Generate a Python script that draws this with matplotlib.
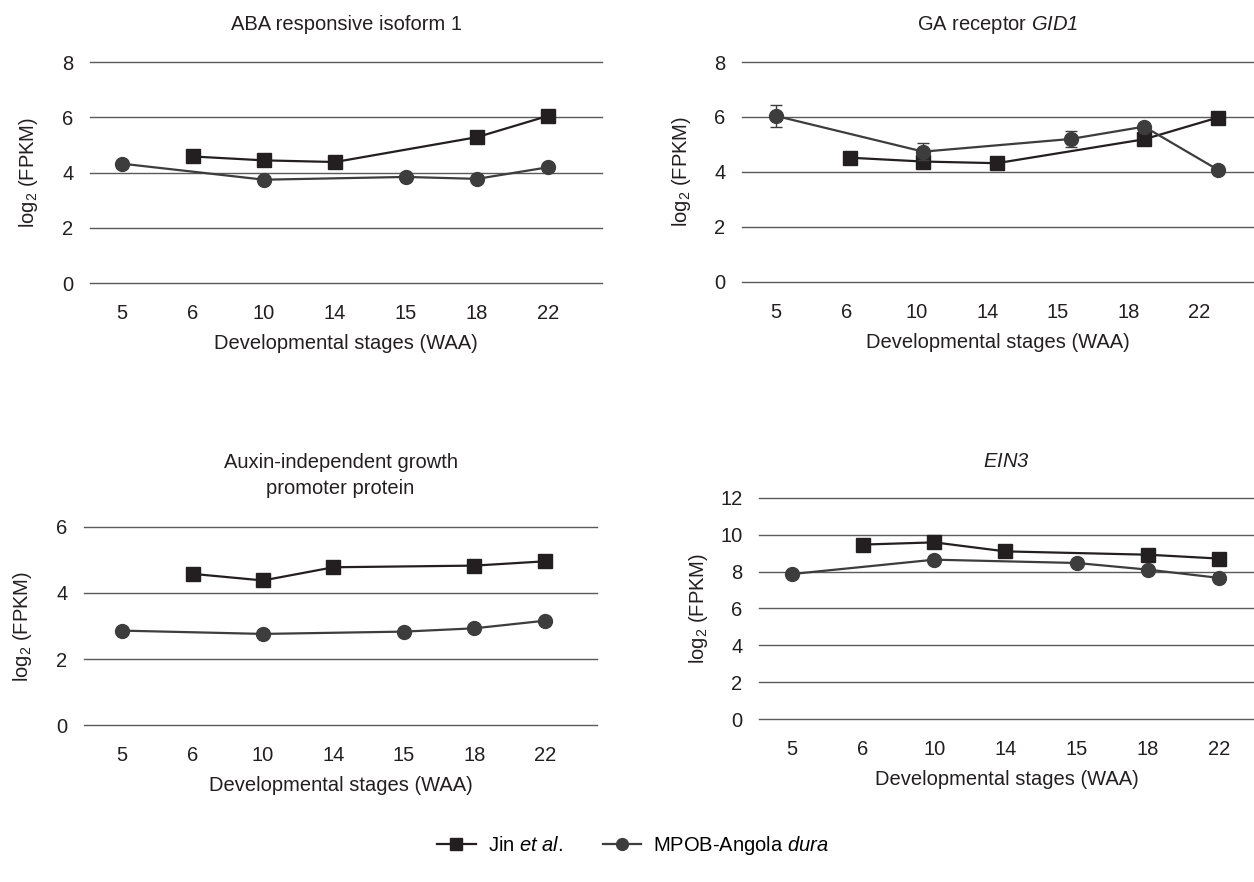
import matplotlib.pyplot as plt
import numpy as np

plt.rcParams['font.family'] = ['Liberation Sans', 'DejaVu Sans']
plt.rcParams['mathtext.fontset'] = 'custom'
plt.rcParams['mathtext.rm'] = 'Liberation Sans'
plt.rcParams['mathtext.it'] = 'Liberation Sans:italic'
plt.rcParams['mathtext.sf'] = 'Liberation Sans:italic'  # italic incl. digits

# stages (WAA), shown as categories
stages = ['5', '6', '10', '14', '15', '18', '22']
jin_idx = [1, 2, 3, 5, 6]      # 6, 10, 14, 18, 22
mpob_idx = [0, 2, 4, 5, 6]     # 5, 10, 15, 18, 22

titles = ['ABA responsive isoform 1',
          r'GA receptor $\mathsf{GID1}$',
          'Auxin-independent growth\npromoter protein',
          r'$\mathsf{EIN3}$']

jin_aba = [4.58, 4.44, 4.38, 5.28, 6.05]
mpob_aba = [4.32, 3.74, 3.84, 3.77, 4.19]

jin_gid1 = [4.52, 4.38, 4.32, 5.19, 5.98]
mpob_gid1 = [6.04, 4.74, 5.20, 5.65, 4.08]
mpob_gid1_err = [0.4, 0.3, 0.3, 0.1, 0.1]

jin_aux = [4.58, 4.38, 4.78, 4.83, 4.96]
mpob_aux = [2.86, 2.76, 2.83, 2.93, 3.16]

jin_ein3 = [9.47, 9.59, 9.10, 8.92, 8.71]
mpob_ein3 = [7.87, 8.65, 8.47, 8.11, 7.66]

jin_vals = [jin_aba, jin_gid1, jin_aux, jin_ein3]
mpob_vals = [mpob_aba, mpob_gid1, mpob_aux, mpob_ein3]
mpob_errs = [None, mpob_gid1_err, None, None]

# layout (figure fractions) and axis settings per panel
rects = [[0.0718, 0.6791, 0.4083, 0.2506],
         [0.5917, 0.6803, 0.4083, 0.2494],
         [0.0670, 0.1780, 0.4091, 0.2245],
         [0.6053, 0.1848, 0.3947, 0.2506]]
ylims = [8, 8, 6, 12]
xlims = [(-0.45, 6.76), (-0.46, 6.49), (-0.54, 6.74), (-0.46, 6.49)]
tick_scale = [1.0, 0.957, 1.0, 1.0]
title_pads = [23, 23, 24, 22]
ylab_pads = [16, 15, 16, 7]

jin_c = '#231f20'
mpob_c = '#3d3d3d'
fs = 14.5

fig = plt.figure(figsize=(12.54, 8.82), dpi=100)

for k in range(4):
    ax = fig.add_axes(rects[k])
    ax.plot(jin_idx, jin_vals[k], color=jin_c, lw=1.6, marker='s', ms=10,
            label=r'Jin $\mathit{et\ al.}$', zorder=3)
    if mpob_errs[k] is not None:
        ax.errorbar(mpob_idx, mpob_vals[k], yerr=mpob_errs[k], color=mpob_c, lw=1.6,
                    marker='o', ms=10, capsize=4, elinewidth=1, capthick=1,
                    label=r'MPOB-Angola $\mathit{dura}$', zorder=3)
    else:
        ax.plot(mpob_idx, mpob_vals[k], color=mpob_c, lw=1.6, marker='o', ms=10,
                label=r'MPOB-Angola $\mathit{dura}$', zorder=3)
    ax.set_ylim(0, ylims[k])
    ax.set_yticks(np.arange(0, ylims[k] + 1, 2))
    ax.set_xlim(*xlims[k])
    ax.set_xticks(np.arange(len(stages)) * tick_scale[k])
    ax.set_xticklabels(stages)
    ax.grid(axis='y', color='#5a5a5a', lw=1.0)
    for gl in ax.get_ygridlines():
        gl.set_clip_on(False)
    ax.set_axisbelow(True)
    for s in ax.spines.values():
        s.set_visible(False)
    ax.tick_params(length=0, labelsize=fs, colors='#231f20')
    ax.tick_params(axis='x', pad=15)
    ax.tick_params(axis='y', pad=12)
    ax.set_xlabel('Developmental stages (WAA)', fontsize=fs, labelpad=8, color='#231f20')
    ax.set_ylabel(r'log$_2$ (FPKM)', fontsize=fs, labelpad=ylab_pads[k], color='#231f20')
    ax.set_title(titles[k], fontsize=fs, pad=title_pads[k], color='#231f20',
                 linespacing=1.45)
    if k == 0:
        handles, labels = ax.get_legend_handles_labels()

fig.legend(handles, labels, loc='center', bbox_to_anchor=(0.505, 0.041), ncol=2,
           frameon=False, fontsize=fs, handlelength=1.9, columnspacing=2.0,
           handletextpad=0.6, markerscale=0.85)

plt.savefig('out.png', dpi=100)
